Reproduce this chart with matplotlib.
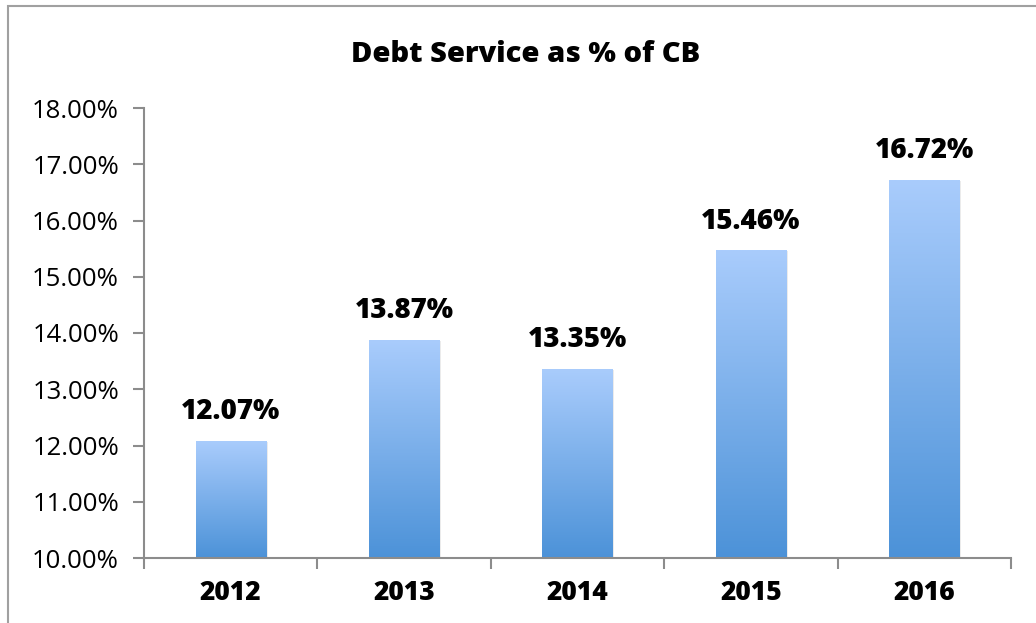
import matplotlib
matplotlib.use("Agg")
import matplotlib.pyplot as plt
import numpy as np
from matplotlib.colors import LinearSegmentedColormap
from matplotlib.patches import Rectangle

categories = ["2012", "2013", "2014", "2015", "2016"]
values = [12.07, 13.87, 13.35, 15.46, 16.72]
value_labels = ["12.07%", "13.87%", "13.35%", "15.46%", "16.72%"]
yticks = [10, 11, 12, 13, 14, 15, 16, 17, 18]
ytick_labels = ["10.00%", "11.00%", "12.00%", "13.00%", "14.00%", "15.00%", "16.00%", "17.00%", "18.00%"]
title = "Debt Service as % of CB"

plt.rcParams['font.family'] = ['Open Sans', 'DejaVu Sans']

fig = plt.figure(figsize=(10.36, 6.23), dpi=100)
# outer chart border
fig.patches.append(Rectangle((8/1036, -0.05), 1.2, (1 - 6/623) + 0.05, transform=fig.transFigure,
                             fill=False, edgecolor="#A0A0A0", linewidth=1.5))

ax = fig.add_axes([144/1036, 1 - 558/623, (1011 - 144)/1036, (558 - 108)/623])
x = np.arange(len(categories))
bars = ax.bar(x, [v - 10 for v in values], bottom=10, width=0.405, color="none", edgecolor="none", zorder=2)

cmap = LinearSegmentedColormap.from_list("g", ["#4C92D8", "#A9CCFC"])
grad = np.linspace(0, 1, 256).reshape(-1, 1)
for b in bars:
    x0, y0 = b.get_x(), b.get_y()
    w, h = b.get_width(), b.get_height()
    # soft shadow
    ax.add_patch(Rectangle((x0 + 0.01, y0), w, h - 0.01, facecolor="#000000", alpha=0.08, zorder=1, edgecolor="none"))
    ax.imshow(grad, extent=[x0, x0 + w, y0, y0 + h], origin="lower", cmap=cmap, aspect="auto", zorder=2)

for xi, v, lab in zip(x, values, value_labels):
    ax.annotate(lab, (xi, v), xytext=(0, 11), textcoords="offset points", ha="center", va="bottom",
                fontsize=20, fontweight="heavy", color="black")

ax.set_xlim(-0.5, len(categories) - 0.5)
ax.set_ylim(10, 18)
ax.set_yticks(yticks)
ax.set_yticklabels(ytick_labels, fontsize=18.5)
ax.set_xticks(x)
ax.set_xticklabels(categories, fontsize=19, fontweight="heavy")
ax.set_xticks(np.arange(-0.5, len(categories), 1), minor=True)
ax.tick_params(axis="x", which="major", length=0, pad=16)
ax.tick_params(axis="x", which="minor", length=8, color="#8C8C8C", width=1.5)
ax.tick_params(axis="y", length=8, color="#8C8C8C", width=1.5, pad=10)
for s in ["top", "right"]:
    ax.spines[s].set_visible(False)
for s in ["left", "bottom"]:
    ax.spines[s].set_color("#8C8C8C")
    ax.spines[s].set_linewidth(1.5)

fig.text(526/1036, 1 - 54/623, title, ha="center", va="center", fontsize=21, fontweight="heavy")

fig.savefig("out.png", dpi=100)
